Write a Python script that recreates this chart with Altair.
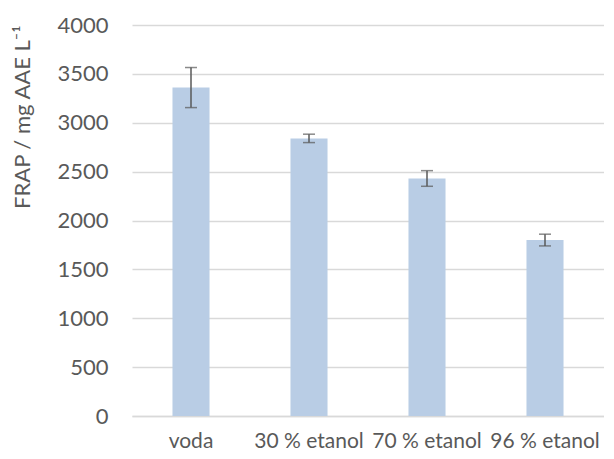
import altair as alt
import pandas as pd

categories = ["voda", "30 % etanol", "70 % etanol", "96 % etanol"]
means = [3360, 2840, 2430, 1800]
errors = [205, 43, 80, 60]

df = pd.DataFrame({"cat": categories, "mean": means, "err": errors})

FONT = "Lato"
GRAY = "#595959"

x = alt.X("cat:N", sort=categories, title=None,
          scale=alt.Scale(paddingInner=0.686, paddingOuter=0.343),
          axis=alt.Axis(labelAngle=0, labelFontSize=21, labelColor=GRAY, labelFont=FONT,
                        ticks=False, domainColor="#d9d9d9", domainWidth=1.5,
                        labelPadding=14, grid=False))

base = alt.Chart(df)

bars = base.mark_bar(color="#b9cde5").encode(
    x=x,
    y=alt.Y("mean:Q", title="FRAP / mg AAE L⁻¹",
            scale=alt.Scale(domain=[0, 4000]),
            axis=alt.Axis(values=list(range(0, 4001, 500)), format="d", labelFontSize=22,
                          labelColor=GRAY, labelFont=FONT, titleFont=FONT,
                          titleFontSize=22, titleColor=GRAY, titleFontWeight="normal",
                          titleAnchor="end", titlePadding=22, ticks=False,
                          domain=False, labelPadding=24,
                          gridColor="#d9d9d9", gridWidth=1.5)),
)

err = base.transform_calculate(
    lo="datum.mean - datum.err", hi="datum.mean + datum.err"
)

rule = err.mark_rule(color=GRAY, strokeWidth=1.5).encode(
    x=alt.X("cat:N", sort=categories), y="lo:Q", y2="hi:Q")
cap_hi = err.mark_tick(color=GRAY, thickness=1.5, size=12, orient="horizontal").encode(
    x=alt.X("cat:N", sort=categories), y="hi:Q")
cap_lo = err.mark_tick(color=GRAY, thickness=1.5, size=12, orient="horizontal").encode(
    x=alt.X("cat:N", sort=categories), y="lo:Q")

chart = alt.layer(bars, rule, cap_hi, cap_lo).properties(
    width=472, height=391,
    autosize=alt.AutoSizeParams(type="none"),
    padding={"left": 124, "top": 17, "right": 0, "bottom": 35},
).configure_view(stroke=None)

chart.save("out.html", embed_options={"renderer": "svg", "actions": False})
